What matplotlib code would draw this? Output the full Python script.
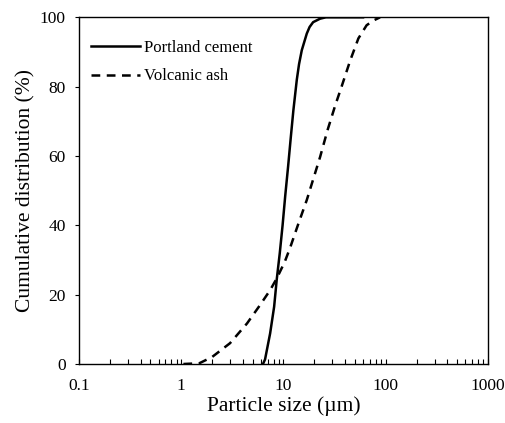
import numpy as np
import matplotlib
matplotlib.use('Agg')
import matplotlib.pyplot as plt

FIGWIDTH = 5.05
FIGHEIGHT = 4.23
FONTSIZE = 12.5

plt.rcParams['font.family'] = ['Liberation Serif', 'DejaVu Serif']
plt.rcParams['font.size'] = FONTSIZE

# particle size (um) vs cumulative passing (%)
cement_size = [6.3, 6.6, 7.4, 8.1, 8.6, 9.2, 9.8, 10.4, 11.1, 11.8, 12.5, 13.5, 14.2, 15.1, 16.9, 18.0, 19.5, 22.8, 26.0, 60.0]
cement_cum = [0.0, 1.3, 8.8, 16.5, 24.5, 32.0, 40.0, 48.5, 57.0, 65.5, 73.2, 82.0, 86.5, 90.5, 95.3, 97.2, 98.6, 99.6, 100.0, 100.0]

ash_size = [1.05, 1.5, 2.0, 3.0, 4.4, 5.9, 7.4, 8.6, 10.3, 11.6, 14.0, 16.9, 22.8, 27.0, 32.0, 37.0, 45.0, 54.0, 65.0, 75.0, 88.0]
ash_cum = [0.0, 0.2, 2.0, 6.0, 11.7, 17.0, 21.3, 24.7, 29.5, 33.5, 40.5, 47.3, 59.7, 67.5, 74.5, 80.0, 87.6, 93.9, 97.7, 99.0, 100.0]

xticks = [0.1, 1, 10, 100, 1000]
xtick_labels = ['0.1', '1', '10', '100', '1000']
yticks = [0, 20, 40, 60, 80, 100]

fig = plt.figure(figsize=(FIGWIDTH, FIGHEIGHT), dpi=100)
ax = fig.add_axes([0.1564, 0.1395, 0.8099, 0.8196])

ax.semilogx(cement_size, cement_cum, color='black', lw=1.8, label='Portland cement')
ax.semilogx(ash_size, ash_cum, color='black', lw=1.8, linestyle=(0, (3.5, 2.6)), label='Volcanic ash')

ax.set_xlim(0.1, 1000)
ax.set_ylim(0, 100)
ax.set_xticks(xticks)
ax.set_xticklabels(xtick_labels)
ax.set_yticks(yticks)

for s in ax.spines.values():
    s.set_linewidth(1.0)

ax.tick_params(axis='x', which='both', direction='in', length=3.5, width=0.8, pad=10, labelsize=FONTSIZE)
ax.tick_params(axis='y', which='major', direction='out', length=3, width=0.8, pad=6.5, labelsize=FONTSIZE)
ax.tick_params(axis='y', which='minor', left=False)

ax.set_xlabel('Particle size (\u00b5m)', fontsize=15.5, labelpad=1.5)
ax.set_ylabel('Cumulative distribution (%)', fontsize=15.5, labelpad=3)

ax.legend(loc='upper left', bbox_to_anchor=(0.03, 0.935), frameon=False,
          fontsize=12, handlelength=2.9, handletextpad=0.25,
          labelspacing=0.75, borderpad=0, borderaxespad=0)

fig.savefig('out.png', dpi=100)
